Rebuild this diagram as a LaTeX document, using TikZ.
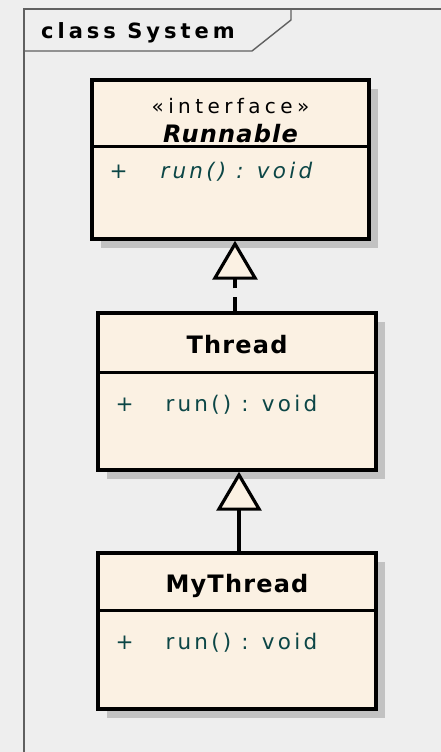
\documentclass[tikz,border=0pt]{standalone}
\usepackage{fontspec}
\setmainfont{DejaVu Sans}
\newfontfamily\titlefont[LetterSpace=19]{DejaVu Sans}
\newfontfamily\namefont[LetterSpace=5]{DejaVu Sans}
\newfontfamily\stereofont[LetterSpace=22]{DejaVu Sans}
\newfontfamily\memberfont[LetterSpace=15]{DejaVu Sans}
\usetikzlibrary{arrows.meta,calc,positioning,shadows}
\definecolor{boxfill}{HTML}{FBF1E3}
\definecolor{bgcolor}{HTML}{EEEEEE}
\definecolor{membertext}{HTML}{0C4646}
\definecolor{framegray}{HTML}{606060}
\definecolor{shadowgray}{HTML}{C2C2C2}

\tikzset{
  classbox/.style={draw=black,fill=boxfill,line width=3.4pt,inner sep=0pt,
    drop shadow={shadow xshift=9pt,shadow yshift=-9pt,fill=shadowgray,opacity=1}},
  divider/.style={draw=black,line width=2.6pt},
  classname/.style={anchor=base,font=\namefont\bfseries\fontsize{24}{28}\selectfont},
  stereotype/.style={anchor=base,font=\stereofont\fontsize{20}{24}\selectfont},
  member/.style={anchor=base west,text=membertext,font=\memberfont\fontsize{21.5}{25}\selectfont},
  realize/.style={line width=3.2pt,dash pattern=on 14pt off 9pt,
    -{Triangle[open,length=39pt,width=45pt,fill=boxfill,line width=3.2pt]}},
  inherit/.style={line width=3.2pt,-{Triangle[open,length=39pt,width=45pt,fill=boxfill,line width=3.2pt]}}
}

\begin{document}
\begin{tikzpicture}[x=1pt,y=-1pt]
\fill[bgcolor] (0,0) rectangle (441,752);
\useasboundingbox (0,0) rectangle (441,752);
% frame with name tab
\draw[framegray,line width=1.4pt] (24,752) -- (24,9) -- (441,9);
\draw[framegray,line width=1.4pt] (24,51) -- (252,51) -- (291,20) -- (291,9);
\node[anchor=base west,inner sep=0pt,font=\titlefont\bfseries\fontsize{21}{25}\selectfont] (title) at (41,39) {class System};

% Runnable
\node[classbox,minimum width=277pt,minimum height=159pt] (runnable) at (230.5,159.5) {};
\draw[divider] ($(runnable.north west)+(0,68)$) -- ($(runnable.north east)+(0,68)$);
\node[stereotype] (runnable-stereo) at ($(runnable.north)+(0,35)$) {«interface»};
\node[classname,font=\namefont\bfseries\itshape\fontsize{24}{28}\selectfont] (runnable-name) at ($(runnable.north)+(0,64)$) {Runnable};
\node[member,inner sep=0pt] (runnable-vis) at ($(runnable.north west)+(19,100)$) {+};
\node[member,inner sep=0pt,font=\memberfont\itshape\fontsize{21.5}{25}\selectfont] (runnable-run) at ($(runnable.north west)+(70,100)$) {run() : void};

% Thread
\node[classbox,minimum width=278pt,minimum height=157pt] (thread) at (237,391.5) {};
\draw[divider] ($(thread.north west)+(0,61)$) -- ($(thread.north east)+(0,61)$);
\node[classname] (thread-name) at ($(thread.north)+(0,42)$) {Thread};
\node[member,inner sep=0pt] (thread-vis) at ($(thread.north west)+(19,100)$) {+};
\node[member,inner sep=0pt] (thread-run) at ($(thread.north west)+(69,100)$) {run() : void};

% MyThread
\node[classbox,minimum width=278pt,minimum height=156pt] (mythread) at (237,631) {};
\draw[divider] ($(mythread.north west)+(0,59)$) -- ($(mythread.north east)+(0,59)$);
\node[classname] (mythread-name) at ($(mythread.north)+(0,41)$) {MyThread};
\node[member,inner sep=0pt] (mythread-vis) at ($(mythread.north west)+(19,98)$) {+};
\node[member,inner sep=0pt] (mythread-run) at ($(mythread.north west)+(69,98)$) {run() : void};

% relations
\draw[realize] ($(thread.north)+(-2,0)$) -- ($(thread.north |- runnable.south)+(-2,0)$);
\draw[inherit] ($(mythread.north)+(2,0)$) -- ($(mythread.north |- thread.south)+(2,0)$);
\end{tikzpicture}
\end{document}
